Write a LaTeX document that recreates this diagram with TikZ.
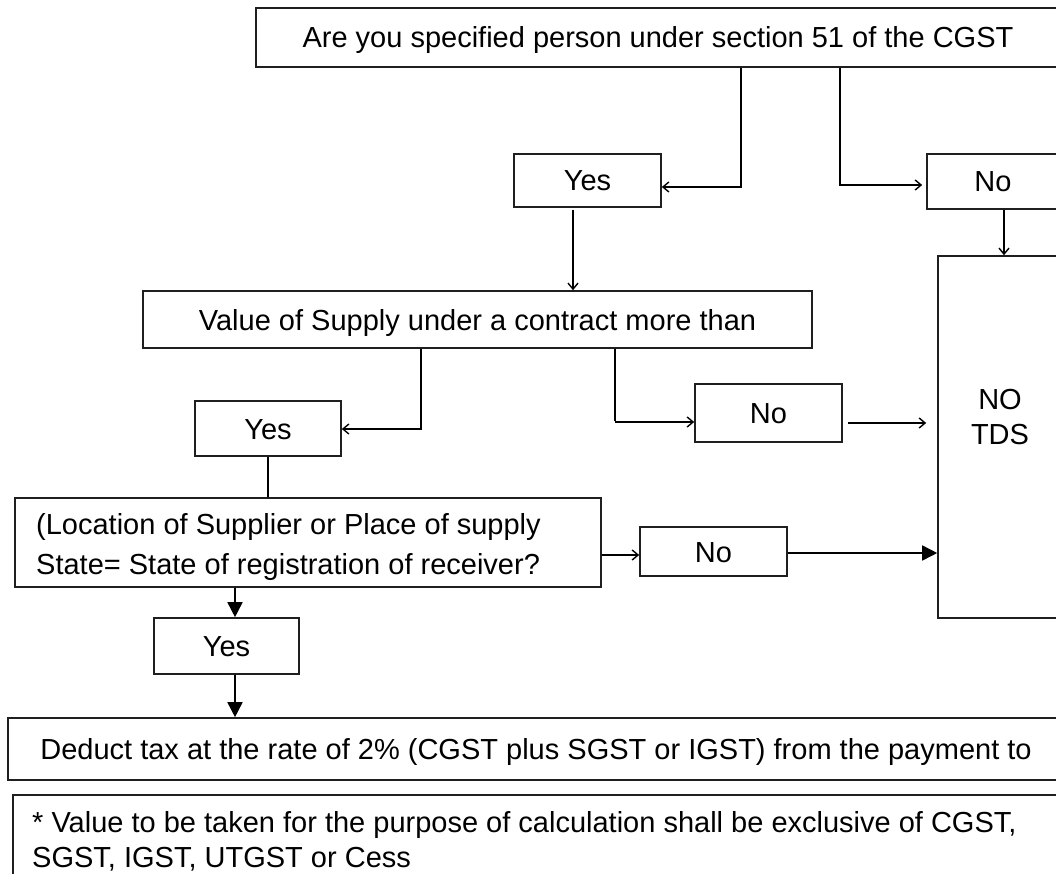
\documentclass[tikz,border=0pt]{standalone}
\usepackage{fontspec}
\setmainfont{Liberation Sans}
\usetikzlibrary{arrows.meta}
\begin{document}
\begin{tikzpicture}[x=1pt,y=-1pt,
  box/.style={draw=black!88, line width=1.6pt, inner sep=0pt},
  txt/.style={font=\fontsize{29}{35}\selectfont, inner sep=0pt},
  one/.style={text height=21pt, text depth=0pt},
  conn/.style={draw=black, line width=1.4pt, -{Straight Barb[length=6pt,width=10pt,line width=1.4pt]}},
  plain/.style={draw=black, line width=1.4pt},
  fconn/.style={draw=black, line width=1.6pt, -{Triangle[length=15pt,width=15pt]}}
]
\useasboundingbox (0,0) rectangle (1056,874);
% boxes
\node[box, txt, one, minimum width=804pt, minimum height=59pt] (top) at (658,37.5) {Are you specified person under section 51 of the CGST};
\node[box, txt, one, minimum width=147pt, minimum height=53pt] (yes1) at (587.5,180.5) {Yes};
\node[box, txt, one, minimum width=132pt, minimum height=55pt] (no1) at (993,181.5) {No};
\node[box, minimum width=124pt, minimum height=362pt] (notds) at (1000,437) {};
\node[txt, align=center, anchor=north] (notdstext) at (1000,389) {NO\\TDS};
\node[box, txt, one, minimum width=669pt, minimum height=57pt] (value) at (477.5,319.5) {Value of Supply under a contract more than};
\node[box, txt, one, minimum width=146pt, minimum height=55pt] (yes2) at (268,428.5) {Yes};
\node[box, txt, one, minimum width=147pt, minimum height=58pt] (no2) at (768.5,413) {No};
\node[box, minimum width=586pt, minimum height=89pt] (loc) at (308,542.5) {};
\node[txt, font=\fontsize{29}{40}\selectfont, align=left, anchor=north west] (loctext) at (36,513) {(Location of Supplier or Place of supply\\State= State of registration of receiver?};
\node[box, txt, one, minimum width=147pt, minimum height=49pt] (no3) at (713.5,551.5) {No};
\node[box, txt, one, minimum width=145pt, minimum height=56pt] (yes3) at (226.5,646) {Yes};
\node[box, txt, one, minimum width=1056pt, minimum height=62pt] (deduct) at (536,749) {Deduct tax at the rate of 2\% (CGST plus SGST or IGST) from the payment to};
\node[box, minimum width=1060pt, minimum height=110pt, anchor=north west] (note) at (12,794) {};
\node[txt, align=left, anchor=north west] (notetext) at (32,811) {* Value to be taken for the purpose of calculation shall be exclusive of CGST,\\SGST, IGST, UTGST or Cess};
% bend points
\coordinate (c1) at (741,187);
\coordinate (c2) at (840,185);
\coordinate (c3) at (1004,0);
\coordinate (c4) at (573,0);
\coordinate (c5) at (421,429);
\coordinate (c6) at (615,422);
\coordinate (c7) at (0,423);
\coordinate (c8) at (0,555);
\coordinate (c9) at (0,553);
\coordinate (c10) at (235,0);
% connectors
\draw[conn] (c1 |- top.south) -- (c1) -- (yes1.east |- c1);
\draw[conn, shorten >=4pt] (c2 |- top.south) -- (c2) -- (no1.west |- c2);
\draw[conn] (no1.south -| c3) -- (notds.north -| c3);
\draw[conn, shorten <=2pt] (yes1.south -| c4) -- (value.north -| c4);
\draw[conn] (c5 |- value.south) -- (c5) -- (yes2.east |- c5);
\draw[plain, line width=2.8pt] (c6 |- value.south) -- ([yshift=0.7pt]c6);
\draw[conn] (c6) -- (no2.west |- c6);
\draw[conn, shorten <=5pt, shorten >=11pt] (no2.east |- c7) -- (notds.west |- c7);
\draw[plain] (yes2.south) -- (yes2.south |- loc.north);
\draw[conn] (loc.east |- c8) -- (no3.west |- c8);
\draw[fconn] (no3.east |- c9) -- (notds.west |- c9);
\draw[fconn] (loc.south -| c10) -- (yes3.north -| c10);
\draw[fconn] (yes3.south -| c10) -- (deduct.north -| c10);
\end{tikzpicture}
\end{document}
